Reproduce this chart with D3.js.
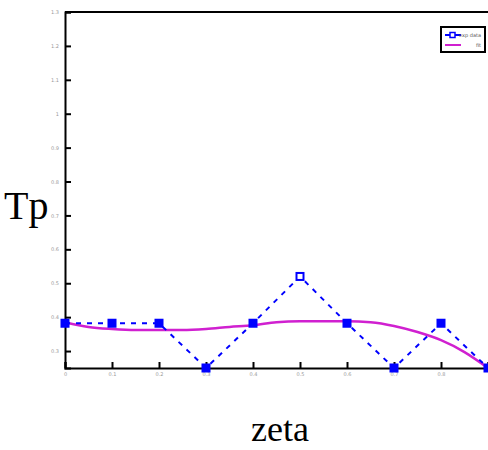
<!DOCTYPE html>
<html lang="en">
<head>
<meta charset="utf-8">
<title>Tp vs zeta</title>
<script src="https://cdn.jsdelivr.net/npm/d3@7"></script>
<style>
  body { margin: 0; background: #fff; }
  .tick text { fill: #999; }
</style>
</head>
<body>
<script>
// measured points (blue) and polynomial fit (magenta)
var zeta = [0, 0.1, 0.2, 0.3, 0.4, 0.5, 0.6, 0.7, 0.8, 0.9];
var tp = [0.382, 0.382, 0.382, 0.25, 0.382, 0.52, 0.382, 0.25, 0.382, 0.25];
var fitZeta = [0, 0.05, 0.1, 0.15, 0.2, 0.25, 0.3, 0.35, 0.4, 0.45, 0.5, 0.55, 0.6, 0.65, 0.7, 0.75, 0.8, 0.85, 0.9];
var fitTp = [0.385, 0.371, 0.365, 0.362, 0.362, 0.362, 0.365, 0.371, 0.376, 0.385, 0.388, 0.388, 0.388, 0.385, 0.374, 0.356, 0.332, 0.297, 0.25];
var xTicks = [0, 0.1, 0.2, 0.3, 0.4, 0.5, 0.6, 0.7, 0.8, 0.9];
var yTicks = [0.3, 0.4, 0.5, 0.6, 0.7, 0.8, 0.9, 1, 1.1, 1.2, 1.3];
var legendNames = ["exp data", "fit"];

var w = 488, h = 450;
var mLeft = 65, mTop = 12, mRight = 488, mBottom = 368;

var svg = d3.select("body").append("svg")
  .attr("width", w)
  .attr("height", h);

var x = d3.scaleLinear().domain([0, 0.9]).range([mLeft, mRight]);
var y = d3.scaleLinear().domain([0.25, 1.3]).range([mBottom, mTop]);

// axes, ticks pointing inward
var xAxis = d3.axisBottom(x).tickValues(xTicks).tickSize(-6).tickPadding(4)
  .tickFormat(function(d) { return d === 0.9 ? "" : d3.format("~g")(d); });
svg.append("g")
  .attr("transform", "translate(0," + mBottom + ")")
  .call(xAxis)
  .call(function(g) {
    g.select(".domain").attr("stroke-width", 2);
    g.selectAll(".tick line").attr("stroke-width", 2);
    g.selectAll(".tick text").attr("font-size", 5).attr("font-family", "DejaVu Sans");
  });

var yAxis = d3.axisLeft(y).tickValues(yTicks).tickSize(-6).tickPadding(6)
  .tickFormat(d3.format("~g"));
svg.append("g")
  .attr("transform", "translate(" + mLeft + ",0)")
  .call(yAxis)
  .call(function(g) {
    g.select(".domain").attr("stroke-width", 2);
    g.selectAll(".tick line").attr("stroke-width", 2);
    g.selectAll(".tick text").attr("font-size", 5).attr("font-family", "DejaVu Sans");
  });

svg.append("line")
  .attr("x1", mLeft).attr("x2", mRight)
  .attr("y1", mTop).attr("y2", mTop)
  .attr("stroke", "#000").attr("stroke-width", 2);

// fit curve
var fitLine = d3.line()
  .x(function(d, i) { return x(fitZeta[i]); })
  .y(function(d) { return y(d); })
  .curve(d3.curveMonotoneX);
svg.append("path")
  .attr("d", fitLine(fitTp))
  .attr("fill", "none")
  .attr("stroke", "#d020d0")
  .attr("stroke-width", 2.5);

// data line
var dataLine = d3.line()
  .x(function(d, i) { return x(zeta[i]); })
  .y(function(d) { return y(d); });
svg.append("path")
  .attr("d", dataLine(tp))
  .attr("fill", "none")
  .attr("stroke", "#0000ff")
  .attr("stroke-width", 2)
  .attr("stroke-dasharray", "5,6");

svg.selectAll("rect.pt").data(tp)
  .enter().append("rect")
  .attr("class", "pt")
  .attr("x", function(d, i) { return x(zeta[i]) - 3.5; })
  .attr("y", function(d) { return y(d) - 3.5; })
  .attr("width", 7)
  .attr("height", 7)
  .attr("fill", function(d, i) { return i === 5 ? "#fff" : "#0000ff"; })
  .attr("stroke", "#0000ff")
  .attr("stroke-width", 2);

// legend
var lg = svg.append("g").attr("transform", "translate(441,27)");
lg.append("rect")
  .attr("width", 44).attr("height", 25)
  .attr("fill", "#fff").attr("stroke", "#000").attr("stroke-width", 2);
lg.append("line").attr("x1", 4).attr("x2", 20).attr("y1", 8).attr("y2", 8)
  .attr("stroke", "#0000ff").attr("stroke-width", 2);
lg.append("rect").attr("x", 9).attr("y", 5.5).attr("width", 5).attr("height", 5)
  .attr("fill", "#fff").attr("stroke", "#0000ff").attr("stroke-width", 1.5);
lg.append("line").attr("x1", 4).attr("x2", 20).attr("y1", 18).attr("y2", 18)
  .attr("stroke", "#d020d0").attr("stroke-width", 2);
lg.selectAll("text.lt").data(legendNames)
  .enter().append("text")
  .attr("class", "lt")
  .attr("x", 40)
  .attr("y", function(d, i) { return 10 + i * 10; })
  .attr("text-anchor", "end")
  .attr("font-size", 5)
  .attr("font-family", "DejaVu Sans")
  .attr("fill", "#555")
  .text(function(d) { return d; });

// axis titles
svg.append("text")
  .attr("x", 4).attr("y", 219)
  .attr("font-family", "Liberation Serif")
  .attr("font-size", 40)
  .text("Tp");
svg.append("text")
  .attr("x", 280).attr("y", 441)
  .attr("text-anchor", "middle")
  .attr("font-family", "Liberation Serif")
  .attr("font-size", 36)
  .text("zeta");
</script>
</body>
</html>
